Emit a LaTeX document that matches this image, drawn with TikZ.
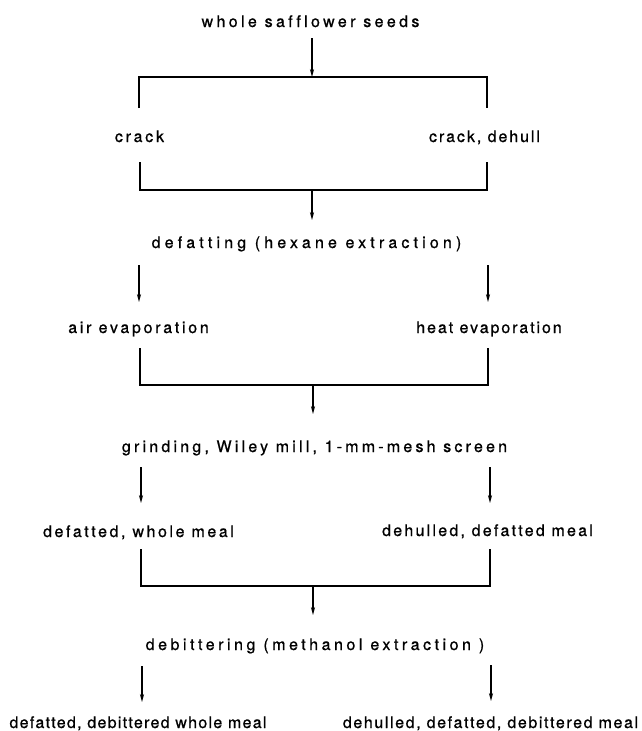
\documentclass[tikz,border=0pt]{standalone}
\usepackage{fontspec}
\setmainfont[Ligatures=NoCommon,FakeBold=0.8]{TeX Gyre Heros}
\usetikzlibrary{arrows.meta}
\newcommand\lsp[2]{{\addfontfeatures{LetterSpace=#1}#2}}
\begin{document}
\begin{tikzpicture}[x=1pt,y=-1pt,
  lab/.style={font=\fontsize{16}{19}\selectfont, inner sep=0pt, anchor=base},
  arr/.style={line width=1.2pt, -{Stealth[length=8pt,width=4.2pt]}},
  ln/.style={line width=1.2pt}]
\useasboundingbox (0,0) rectangle (642,731);
% text nodes
\node[lab] (seeds) at (310.5,27) {\lsp{21}{whole safflower seeds}};
\node[lab] (crackL) at (139.5,142) {\lsp{17}{crack}};
\node[lab] (crackR) at (484.5,142) {\lsp{12}{crack, dehull}};
\node[lab] (defat) at (306.5,248) {\lsp{26}{defatting (hexane extraction)}};
\node[lab] (airev) at (138.5,333) {\lsp{17}{air evaporation}};
\node[lab] (heatev) at (489,333) {\lsp{12}{heat evaporation}};
\node[lab] (grind) at (314.5,452) {\lsp{20}{grinding, Wiley mill, 1-mm-mesh screen}};
\node[lab] (mealL) at (138.5,537) {\lsp{16}{defatted, whole meal}};
\node[lab] (mealR) at (487.5,536) {\lsp{14}{dehulled, defatted meal}};
\node[lab] (debit) at (315,650) {\lsp{22}{debittering (methanol extraction )}};
\node[lab] (finL) at (138,728) {\lsp{8}{defatted, debittered whole meal}};
\node[lab] (finR) at (490.5,728) {\lsp{10}{dehulled, defatted, debittered meal}};
% coordinates
\coordinate (s0) at (312,38);  \coordinate (j1) at (312,77);
\coordinate (b1l) at (139,108); \coordinate (b1r) at (487,108);
\coordinate (c1l) at (140,162); \coordinate (c1r) at (487,162);
\coordinate (j2) at (312,190); \coordinate (d0) at (312,220);
\coordinate (e1l) at (139,265); \coordinate (e2l) at (139,302);
\coordinate (e1r) at (488,265); \coordinate (e2r) at (488,302);
\coordinate (f1l) at (140,348); \coordinate (f1r) at (488,348);
\coordinate (j3) at (313,385); \coordinate (g0) at (313,414);
\coordinate (h1l) at (141,467); \coordinate (h2l) at (141,503);
\coordinate (h1r) at (490,467); \coordinate (h2r) at (490,503);
\coordinate (k1l) at (141,549); \coordinate (k1r) at (490,549);
\coordinate (j4) at (313,586); \coordinate (m0) at (313,615);
\coordinate (n1l) at (142,666); \coordinate (n2l) at (142,702);
\coordinate (n1r) at (491,665); \coordinate (n2r) at (491,701);
% connectors
\draw[arr] (s0) -- (j1);
\draw[ln] (b1l) |- (j1) -| (b1r);
\draw[ln] (c1l) |- (j2) -| (c1r);
\draw[arr] (j2) -- (d0);
\draw[arr] (e1l) -- (e2l);
\draw[arr] (e1r) -- (e2r);
\draw[ln] (f1l) |- (j3) -| (f1r);
\draw[arr] (j3) -- (g0);
\draw[arr] (h1l) -- (h2l);
\draw[arr] (h1r) -- (h2r);
\draw[ln] (k1l) |- (j4) -| (k1r);
\draw[arr] (j4) -- (m0);
\draw[arr] (n1l) -- (n2l);
\draw[arr] (n1r) -- (n2r);
\end{tikzpicture}
\end{document}
